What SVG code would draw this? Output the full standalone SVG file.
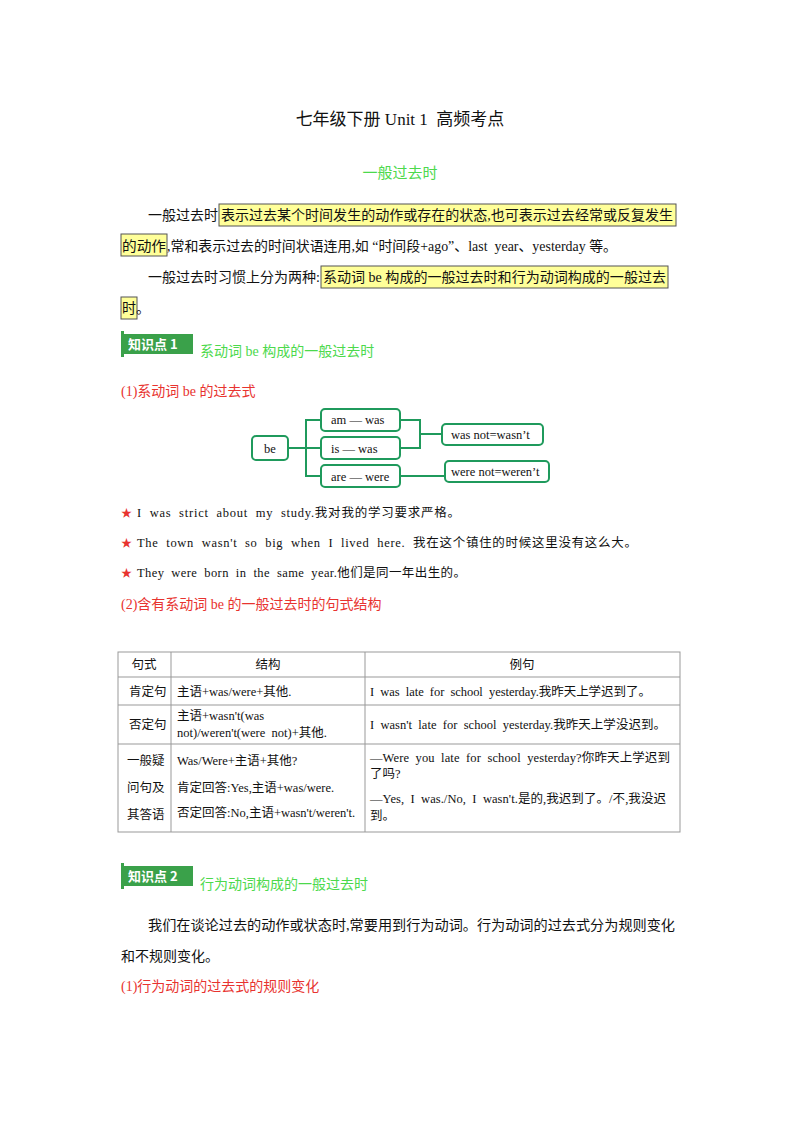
<svg xmlns="http://www.w3.org/2000/svg" width="800" height="1132" viewBox="0 0 800 1132">
<style>
text{font-family:"Liberation Serif","Noto Sans CJK SC",serif;font-size:14px;fill:#111;white-space:pre}
.g{fill:#4cd94c}
.r{fill:#e8332f}
.hl{fill:#ffff99;stroke:#555;stroke-width:1}
.nb{fill:#fff;stroke:#1f9a5c;stroke-width:2}
.ln{fill:none;stroke:#1f9a5c;stroke-width:2}
.tb{fill:none;stroke:#999;stroke-width:1}
.sm{font-size:12.5px}
.star{fill:#e8332f;font-size:11px}
</style>
<rect width="800" height="1132" fill="#fff"/>
<text x="400" y="125" text-anchor="middle" style="font-size:17px">七年级下册 Unit 1  高频考点</text>
<text x="400" y="178" text-anchor="middle" class="g" style="font-size:15px">一般过去时</text>
<rect class="hl" x="219" y="204" width="457" height="22"/>
<rect class="hl" x="121" y="234" width="46" height="22"/>
<rect class="hl" x="321" y="266" width="347" height="22"/>
<rect class="hl" x="121" y="297" width="16" height="22"/>
<text x="148" y="220" textLength="70" lengthAdjust="spacingAndGlyphs">一般过去时</text>
<text x="221" y="220" textLength="452" lengthAdjust="spacingAndGlyphs">表示过去某个时间发生的动作或存在的状态,也可表示过去经常或反复发生</text>
<text x="122" y="251" textLength="44" lengthAdjust="spacingAndGlyphs">的动作</text>
<text x="167" y="251" textLength="450" lengthAdjust="spacingAndGlyphs">,常和表示过去的时间状语连用,如 “时间段+ago”、last  year、yesterday 等。</text>
<text x="148" y="282" textLength="172" lengthAdjust="spacingAndGlyphs">一般过去时习惯上分为两种:</text>
<text x="323" y="282" textLength="343" lengthAdjust="spacingAndGlyphs">系动词 be 构成的一般过去时和行为动词构成的一般过去</text>
<text x="122" y="313">时。</text>
<g id="kp1"><path d="M121 334 h72 v20 h-70 z" fill="#3aa14a"/><rect x="121" y="331" width="3" height="26" fill="#3aa14a"/><text x="128" y="349" style="fill:#fff;font-weight:bold;font-family:'Noto Sans CJK SC',sans-serif;font-size:13px">知识点 1</text></g>
<text x="200" y="356" class="g">系动词 be 构成的一般过去时</text>
<text x="121" y="396" class="r">(1)系动词 be 的过去式</text>
<g id="connectors">
<path class="ln" d="M288 448 H306 M306 448 V420 H321 M306 448 H321 M306 448 V476 H321"/>
<path class="ln" d="M400 420 H420 V448 H400 M420 434 H442 M400 476 H445"/>
</g>
<g id="n-be"><rect class="nb" x="252" y="436" width="36" height="24" rx="4"/><text x="270" y="453" text-anchor="middle" class="sm">be</text></g>
<g id="n-am"><rect class="nb" x="321" y="409" width="79" height="22" rx="4"/><text x="331" y="424" class="sm">am — was</text></g>
<g id="n-is"><rect class="nb" x="321" y="437" width="79" height="22" rx="4"/><text x="331" y="453" class="sm">is — was</text></g>
<g id="n-are"><rect class="nb" x="321" y="465" width="79" height="22" rx="4"/><text x="331" y="481" class="sm">are — were</text></g>
<g id="n-wasnt"><rect class="nb" x="442" y="424" width="101" height="21" rx="4"/><text x="451" y="439" class="sm">was not=wasn’t</text></g>
<g id="n-werent"><rect class="nb" x="445" y="461" width="104" height="21" rx="4"/><text x="451" y="476" class="sm">were not=weren’t</text></g>
<text x="121" y="517" class="star">★</text><text x="137" y="517" class="sm" textLength="323" lengthAdjust="spacing">I  was  strict  about  my  study.我对我的学习要求严格。</text>
<text x="121" y="547" class="star">★</text><text x="137" y="547" class="sm" textLength="500" lengthAdjust="spacing">The  town  wasn't  so  big  when  I  lived  here.  我在这个镇住的时候这里没有这么大。</text>
<text x="121" y="577" class="star">★</text><text x="137" y="577" class="sm" textLength="329" lengthAdjust="spacing">They  were  born  in  the  same  year.他们是同一年出生的。</text>
<text x="121" y="609" class="r">(2)含有系动词 be 的一般过去时的句式结构</text>
<g id="table">
<rect class="tb" x="118" y="652" width="562" height="180"/>
<path class="tb" d="M171 652 V832 M365 652 V832 M118 677 H680 M118 705 H680 M118 744 H680"/>
<text x="144" y="669" text-anchor="middle" class="sm">句式</text>
<text x="268" y="669" text-anchor="middle" class="sm">结构</text>
<text x="522" y="669" text-anchor="middle" class="sm">例句</text>
<text x="129" y="696" class="sm">肯定句</text>
<text x="177" y="696" class="sm">主语+was/were+其他.</text>
<text x="370" y="696" class="sm" textLength="281" lengthAdjust="spacing">I  was  late  for  school  yesterday.我昨天上学迟到了。</text>
<text x="129" y="729" class="sm">否定句</text>
<text x="177" y="720" class="sm">主语+wasn't(was</text>
<text x="177" y="737" class="sm">not)/weren't(were  not)+其他.</text>
<text x="370" y="729" class="sm" textLength="296" lengthAdjust="spacing">I  wasn't  late  for  school  yesterday.我昨天上学没迟到。</text>
<text x="127" y="765" class="sm">一般疑</text>
<text x="127" y="792" class="sm">问句及</text>
<text x="127" y="819" class="sm">其答语</text>
<text x="177" y="765" class="sm">Was/Were+主语+其他?</text>
<text x="177" y="792" class="sm">肯定回答:Yes,主语+was/were.</text>
<text x="177" y="817" class="sm">否定回答:No,主语+wasn't/weren't.</text>
<text x="370" y="762" class="sm" textLength="300" lengthAdjust="spacing">—Were  you  late  for  school  yesterday?你昨天上学迟到</text>
<text x="370" y="778" class="sm">了吗?</text>
<text x="370" y="803" class="sm" textLength="296" lengthAdjust="spacing">—Yes,  I  was./No,  I  wasn't.是的,我迟到了。/不,我没迟</text>
<text x="370" y="820" class="sm">到。</text>
</g>
<g id="kp2"><path d="M121 866 h72 v20 h-70 z" fill="#3aa14a"/><rect x="121" y="863" width="3" height="26" fill="#3aa14a"/><text x="128" y="881" style="fill:#fff;font-weight:bold;font-family:'Noto Sans CJK SC',sans-serif;font-size:13px">知识点 2</text></g>
<text x="200" y="889" class="g">行为动词构成的一般过去时</text>
<text x="148" y="930" textLength="527" lengthAdjust="spacingAndGlyphs">我们在谈论过去的动作或状态时,常要用到行为动词。行为动词的过去式分为规则变化</text>
<text x="121" y="961">和不规则变化。</text>
<text x="121" y="991" class="r">(1)行为动词的过去式的规则变化</text>
</svg>
